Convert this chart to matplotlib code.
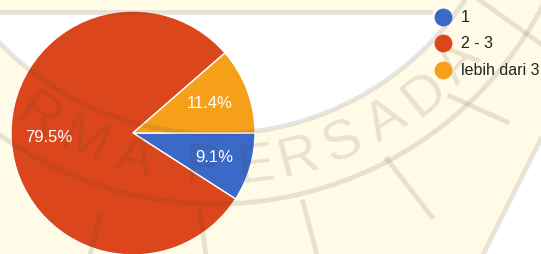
import numpy as np
import matplotlib.pyplot as plt
from matplotlib.patches import Circle, Rectangle, Polygon

labels = ["1", "2 - 3", "lebih dari 3"]
values = [9.1, 79.5, 11.4]
colors = ["#3a69c8", "#dc461c", "#f6a01a"]

plt.rcParams["font.family"] = ["Liberation Sans", "DejaVu Sans"]

cream = "#fffbe6"
wm_col = "#4a4030"
wm_alpha = 0.13

fig = plt.figure(figsize=(5.41, 2.55), dpi=100)
fig.patch.set_facecolor(cream)

# background of the watermark (pixel coords, y down)
bg = fig.add_axes([0, 0, 1, 1])
bg.set_xlim(0, 541)
bg.set_ylim(255, 0)
bg.axis("off")
cx, cy = 215, -165
bg.add_patch(Circle((cx, cy), 300, facecolor="white", edgecolor="none"))
bg.add_patch(Rectangle((0, 0), 541, 14, facecolor=cream, edgecolor="none"))
bg.add_patch(Polygon([[541, 140], [483, 255], [541, 255]], facecolor="white", edgecolor="none"))

# pie: centre ~ (133, 134) px, radius ~ 122 px
ax = fig.add_axes([11 / 541, -1 / 255, 244 / 541, 244 / 255])
wedges, texts, autotexts = ax.pie(
    values, colors=colors, startangle=0, counterclock=False,
    autopct=lambda p: "{:.1f}%".format(p),
    wedgeprops=dict(edgecolor="white", linewidth=1),
    textprops=dict(color="white", fontsize=12),
)
ax.set_xlim(-1, 1)
ax.set_ylim(-1, 1)
ax.set_aspect("equal")
ax.axis("off")

autotexts[0].set_position((0.67, -0.19))
autotexts[1].set_position((-0.69, -0.03))
autotexts[2].set_position((0.63, 0.25))

# watermark lines and letters, on top of everything
top = fig.add_axes([0, 0, 1, 1])
top.set_xlim(0, 541)
top.set_ylim(255, 0)
top.axis("off")
lw = 3.5
for r in (300, 370):
    top.add_patch(Circle((cx, cy), r, facecolor="none", edgecolor=wm_col, alpha=wm_alpha, lw=lw))
top.plot([0, 430], [13, 13], color=wm_col, alpha=wm_alpha, lw=lw)
for (x0, y0), (x1, y1) in [((100, 217), (90, 256)), ((200, 213), (206, 256)),
                           ((303, 203), (317, 256)), ((387, 160), (432, 218)),
                           ((450, 97), (507, 123)), ((541, 140), (483, 256)),
                           ((478, 0), (541, 45))]:
    top.plot([x0, x1], [y0, y1], color=wm_col, alpha=wm_alpha, lw=lw)

wm = "RMA PERSADA"
angles = [-32, -23, -14, None, -2, 7, 14.5, 22.5, 31, 39, 47]
for ch, a in zip(wm, angles):
    if a is None:
        continue
    x = cx + 334 * np.sin(np.radians(a))
    y = cy + 334 * np.cos(np.radians(a))
    top.text(x, y, ch, rotation=a, ha="center", va="center", fontsize=40,
             color=wm_col, alpha=wm_alpha, rotation_mode="anchor")

# legend with round markers
for i, (lab, col) in enumerate(zip(labels, colors)):
    y = 17.5 + i * 26.5
    top.scatter([443], [y], s=140, color=col, zorder=3)
    top.text(461, y, lab, va="center", ha="left", fontsize=11.5, color="#222222")

fig.savefig("out.png", dpi=100, facecolor=fig.get_facecolor())
